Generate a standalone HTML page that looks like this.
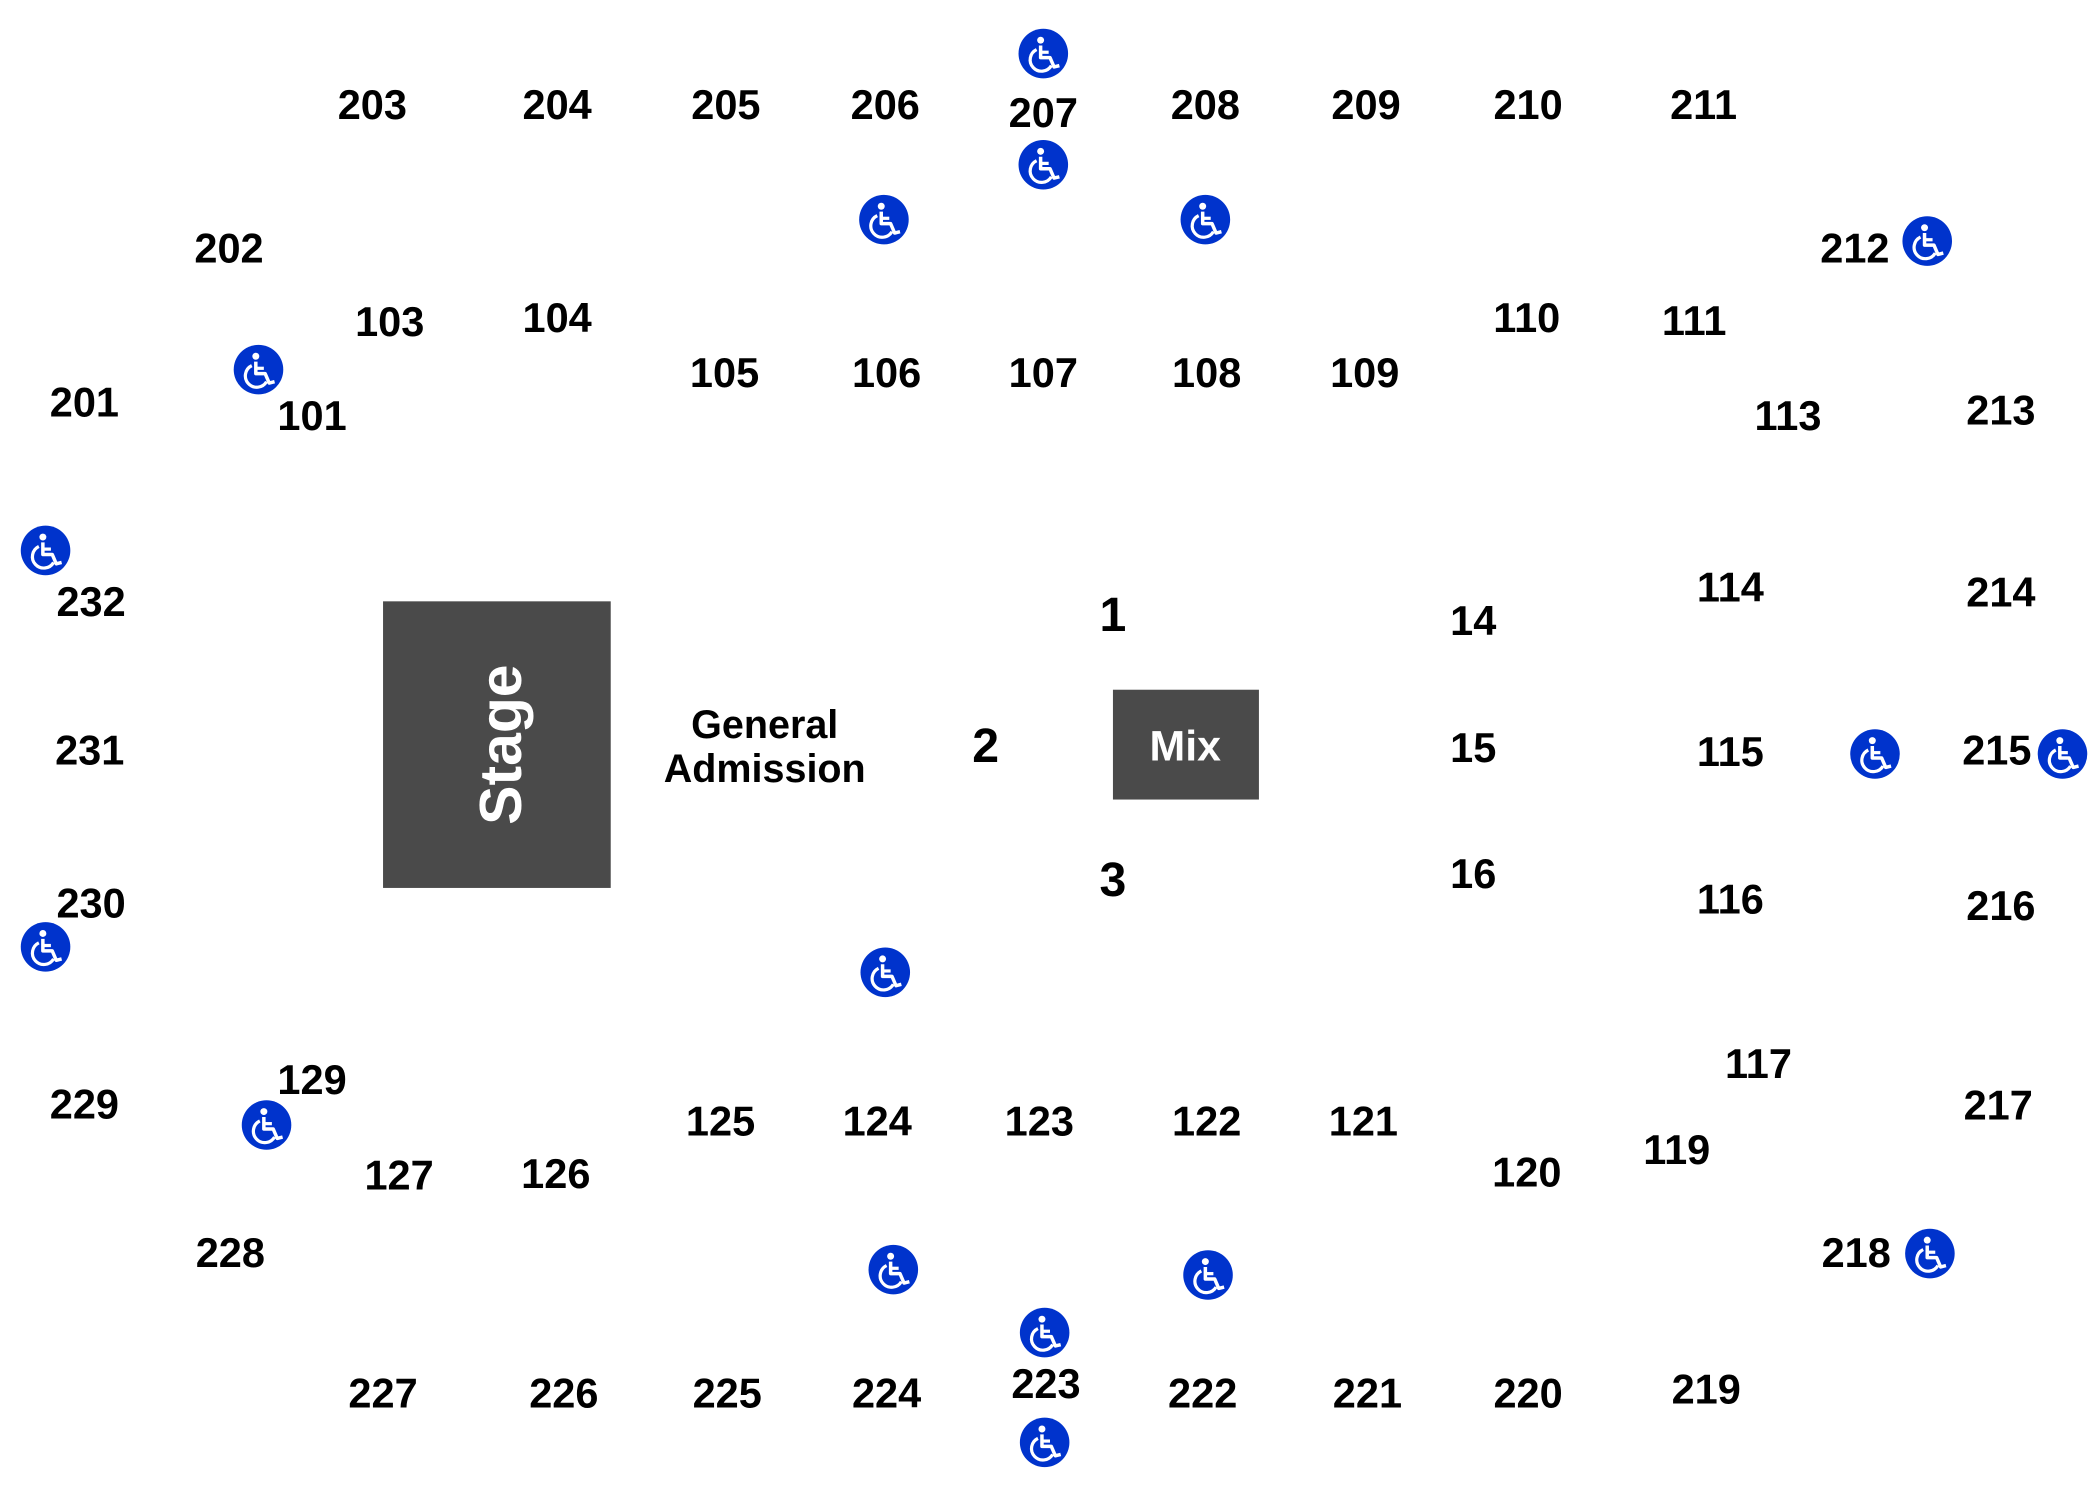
<!DOCTYPE html>
<html><head><style>html,body{margin:0;padding:0;background:#fff}svg{display:block}</style></head><body>
<svg width="2100" height="1504" viewBox="0 0 1568 1123" xmlns="http://www.w3.org/2000/svg">
<defs>
<g id="wc">
<circle r="18.5" fill="#0033cc"/>
<circle cx="-2" cy="-10" r="2.6" fill="#fff"/>
<path d="M-2,-6 L-2,3 L5,3 L8,10 L12,9" fill="none" stroke="#fff" stroke-width="2.6" stroke-linejoin="round"/>
<path d="M-2,-1 L4,-1" stroke="#fff" stroke-width="2.4"/>
<path d="M-5,-3 A8.5,8.5 0 1 0 6,9" fill="none" stroke="#fff" stroke-width="2.4"/>
</g>
</defs>
<rect x="286" y="449" width="170" height="214" fill="#4a4a4a"/>
<text transform="translate(389,556) rotate(-90)" text-anchor="middle" font-family="Liberation Sans, sans-serif" font-weight="bold" font-size="44" fill="#fff">Stage</text>
<rect x="831" y="515" width="109" height="82" fill="#4a4a4a"/>
<text x="885" y="568" text-anchor="middle" font-family="Liberation Sans, sans-serif" font-weight="bold" font-size="32" fill="#fff">Mix</text>
<g font-family="Liberation Sans, sans-serif" font-weight="bold" font-size="31" text-anchor="middle" fill="#000" transform="translate(0,-1)">
<text x="278" y="90">203</text><text x="416" y="90">204</text><text x="542" y="90">205</text><text x="661" y="90">206</text><text x="779" y="96">207</text><text x="900" y="90">208</text><text x="1020" y="90">209</text><text x="1141" y="90">210</text><text x="1272" y="90">211</text>
<text x="171" y="197">202</text><text x="291" y="252">103</text><text x="416" y="249">104</text><text x="541" y="290">105</text><text x="662" y="290">106</text><text x="779" y="290">107</text><text x="901" y="290">108</text><text x="1019" y="290">109</text><text x="1140" y="249">110</text><text x="1265" y="251">111</text><text x="1385" y="197">212</text>
<text x="63" y="312">201</text><text x="233" y="322">101</text><text x="1335" y="322">113</text><text x="1494" y="318">213</text>
<text x="68" y="461">232</text><text x="1100" y="475">14</text><text x="1292" y="450">114</text><text x="1494" y="454">214</text>
<text x="67" y="572">231</text><text x="1100" y="570">15</text><text x="1292" y="573">115</text><text x="1491" y="572">215</text>
<text x="68" y="686">230</text><text x="1100" y="664">16</text><text x="1292" y="683">116</text><text x="1494" y="688">216</text>
<text x="63" y="836">229</text><text x="233" y="818">129</text><text x="538" y="849">125</text><text x="655" y="849">124</text><text x="776" y="849">123</text><text x="901" y="849">122</text><text x="1018" y="849">121</text><text x="1313" y="806">117</text><text x="1492" y="837">217</text>
<text x="298" y="889">127</text><text x="415" y="888">126</text><text x="1140" y="887">120</text><text x="1252" y="870">119</text>
<text x="172" y="947">228</text><text x="1386" y="947">218</text>
<text x="286" y="1052">227</text><text x="421" y="1052">226</text><text x="543" y="1052">225</text><text x="662" y="1052">224</text><text x="781" y="1045">223</text><text x="898" y="1052">222</text><text x="1021" y="1052">221</text><text x="1141" y="1052">220</text><text x="1274" y="1049">219</text>
</g>
<g font-family="Liberation Sans, sans-serif" font-weight="bold" font-size="36" text-anchor="middle">
<text x="831" y="471">1</text><text x="736" y="569">2</text><text x="831" y="669">3</text>
</g>
<g font-family="Liberation Sans, sans-serif" font-weight="bold" font-size="29.5" text-anchor="middle">
<text x="571" y="551">General</text><text x="571" y="584">Admission</text>
</g>
<use href="#wc" x="779" y="40"/><use href="#wc" x="779" y="123"/><use href="#wc" x="660" y="164"/><use href="#wc" x="900" y="164"/><use href="#wc" x="1439" y="180"/><use href="#wc" x="193" y="276"/><use href="#wc" x="34" y="411"/><use href="#wc" x="1400" y="563"/><use href="#wc" x="1540" y="563"/><use href="#wc" x="34" y="707"/><use href="#wc" x="661" y="726"/><use href="#wc" x="199" y="840"/><use href="#wc" x="667" y="948"/><use href="#wc" x="902" y="952"/><use href="#wc" x="1441" y="936"/><use href="#wc" x="780" y="995"/><use href="#wc" x="780" y="1077"/>
</svg>
</body></html>
